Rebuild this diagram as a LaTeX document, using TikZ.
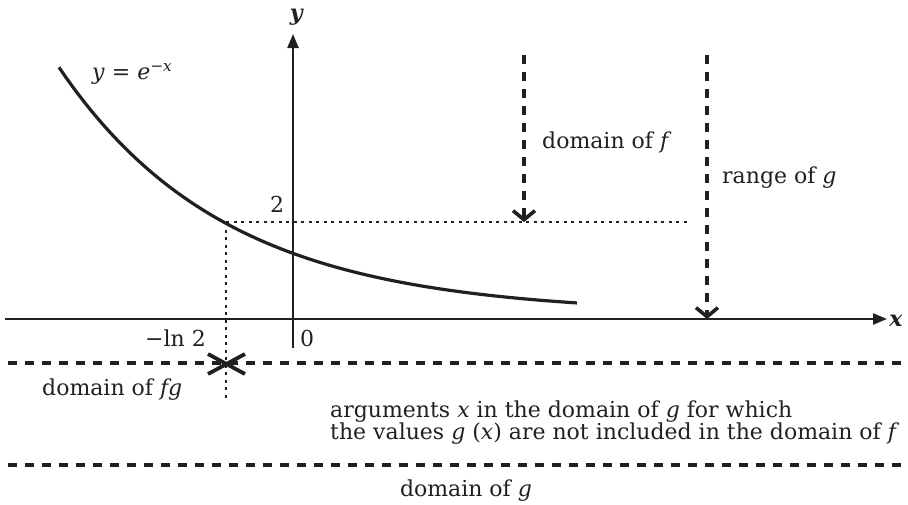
\documentclass[tikz,border=0pt]{standalone}
\usepackage{fontspec}
\setmainfont{DejaVu Serif}
\usetikzlibrary{arrows.meta}
\definecolor{ink}{HTML}{231F20}
\begin{document}
\begin{tikzpicture}[x=1pt,y=-1pt,
  every node/.style={inner sep=0pt,text=ink,font=\fontsize{22}{22}\selectfont},
  axis/.style={draw=ink,line width=2.4pt,-{Triangle[length=14pt,width=11pt]}},
  curvestyle/.style={draw=ink,line width=3.2pt},
  thickdash/.style={draw=ink,line width=3.2pt,dash pattern=on 9pt off 8pt},
  dasharrow/.style={thickdash,-{Straight Barb[length=9pt,width=22pt,line width=3.6pt]}},
  thindot/.style={draw=ink,line width=1.6pt,dash pattern=on 3pt off 4.5pt},
  crossline/.style={draw=ink,line width=3.8pt}]
\useasboundingbox (0,0) rectangle (908,504);
% axes
\coordinate (xs) at (5,319);
\coordinate (xe) at (887,319);
\coordinate (ys) at (293,348);
\coordinate (ye) at (293,34);
\draw[axis] (xs) -- (xe);
\draw[axis] (ys) -- (ye);
\node (xl) at (896,321) {\textbf{\textit{x}}};
\node (yl) at (297,17) {\textbf{\textit{y}}};
% curve
\draw[curvestyle] plot[domain=59:577,samples=80] (\x,{314-61*exp(-0.006*(\x-292))});
\node[anchor=west] (fl) at (92,74) {\textit{y} = \textit{e}\textsuperscript{−\textit{x}}};
% dotted guides
\coordinate (p2) at (226,222);
\coordinate (p2r) at (690,222);
\coordinate (vb) at (226,398);
\draw[thindot] (p2) -- (p2r);
\draw[thindot] (p2) -- (vb);
\node (two) at (277,204) {2};
\node (zero) at (307,338) {0};
\node[anchor=east] (ln2) at (206,338) {−ln 2};
% dashed arrows
\coordinate (fa) at (524,55);
\coordinate (fb) at (524,222);
\coordinate (ga) at (707,55);
\coordinate (gb) at (707,319);
\draw[dasharrow] (fa) -- (fb);
\draw[dasharrow] (ga) -- (gb);
\node[anchor=west] (df) at (542,142) {domain of \textit{f}};
\node[anchor=west] (rg) at (722,178) {range of \textit{g}};
% domain lines
\coordinate (d1a) at (8,363);
\coordinate (d1b) at (908,363);
\coordinate (d2a) at (8,465);
\coordinate (d2b) at (908,465);
\draw[thickdash] (d1a) -- (d1b);
\draw[thickdash] (d2a) -- (d2b);
% cross
\coordinate (c1) at (208,354);
\coordinate (c2) at (245,374);
\coordinate (c3) at (208,374);
\coordinate (c4) at (245,354);
\draw[crossline] (c1) -- (c2);
\draw[crossline] (c3) -- (c4);
\node[anchor=west] (dfg) at (42,390) {domain of \textit{fg}};
\node[anchor=west,align=left] (arg) at (330,423) {arguments \textit{x} in the domain of \textit{g} for which\\the values \textit{g} (\textit{x}) are not included in the domain of \textit{f}};
\node (dg) at (466,491) {domain of \textit{g}};
\end{tikzpicture}
\end{document}
